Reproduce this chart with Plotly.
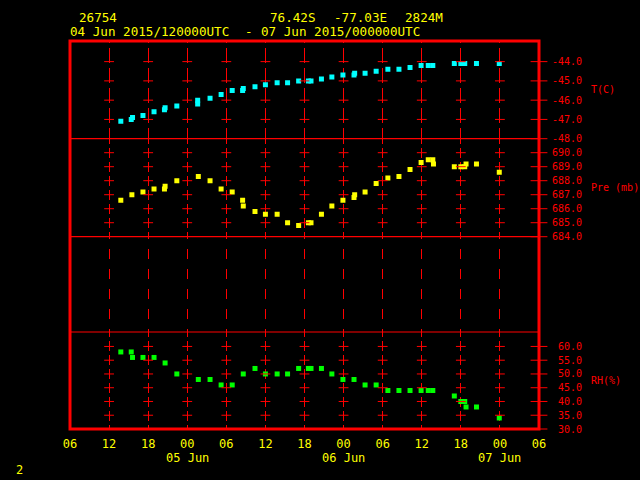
import plotly.graph_objects as go

# ---------------- data ----------------
STATION_ID = "26754"
LAT_TXT = "76.42S"
LON_TXT = "-77.03E"
ELEV_TXT = "2824M"
TIME_START = "04 Jun 2015/120000UTC"
TIME_END = "07 Jun 2015/000000UTC"
PAGE_NO = "2"

# hours since 2015-06-04 00 UTC
X_TICK_HOURS = [6, 12, 18, 24, 30, 36, 42, 48, 54, 60, 66, 72, 78]
X_TICK_LABELS = ["06", "12", "18", "00", "06", "12", "18", "00", "06", "12", "18", "00", "06"]
DATE_HOURS = [24, 48, 72]
DATE_LABELS = ["05 Jun", "06 Jun", "07 Jun"]

T_TICKS = [-48, -47, -46, -45, -44]
P_TICKS = [684, 685, 686, 687, 688, 689, 690]
RH_TICKS = [30, 35, 40, 45, 50, 55, 60]

T_hours = [13.8, 15.4, 15.6, 17.2, 18.9, 20.5, 20.6, 22.4, 25.6, 25.6,
           27.5, 29.2, 30.9, 32.5, 32.6, 34.4, 36.0, 37.8, 39.4, 41.1,
           42.6, 43.0, 44.6, 46.2, 47.9, 49.6, 49.7, 51.3, 53.0, 54.8,
           56.5, 58.2, 59.9, 61.0, 61.7, 65.0, 66.0, 66.6, 68.4, 71.9]
T_vals = [-47.1, -47.0, -46.9, -46.8, -46.6, -46.5, -46.4, -46.3, -46.2, -46.0,
          -45.9, -45.7, -45.5, -45.5, -45.4, -45.3, -45.2, -45.1, -45.1, -45.0,
          -45.0, -45.0, -44.9, -44.8, -44.7, -44.7, -44.6, -44.6, -44.5, -44.4,
          -44.4, -44.3, -44.2, -44.2, -44.2, -44.1, -44.1, -44.1, -44.1, -44.1]

P_hours = [13.8, 15.5, 17.2, 18.9, 20.5, 20.6, 22.4, 25.7, 27.5, 29.2,
           30.9, 32.5, 32.6, 34.4, 36.0, 37.8, 39.4, 41.1, 42.6, 43.0,
           44.6, 46.2, 47.9, 49.6, 49.7, 51.3, 53.0, 54.8, 56.5, 58.2,
           59.9, 61.0, 61.7, 61.8, 65.0, 66.0, 66.6, 66.8, 68.4, 71.9]
P_vals = [686.6, 687.0, 687.2, 687.4, 687.4, 687.6, 688.0, 688.3, 688.0, 687.4,
          687.2, 686.6, 686.2, 685.8, 685.6, 685.6, 685.0, 684.8, 685.0, 685.0,
          685.6, 686.2, 686.6, 686.8, 687.0, 687.2, 687.8, 688.2, 688.3, 688.8,
          689.3, 689.5, 689.5, 689.2, 689.0, 689.0, 689.0, 689.2, 689.2, 688.6]

RH_hours = [13.8, 15.4, 15.6, 17.2, 18.9, 20.6, 22.4, 25.7, 27.5, 29.2,
            30.9, 32.6, 34.4, 36.0, 37.8, 39.4, 41.1, 42.6, 43.0, 44.6,
            46.2, 47.9, 49.6, 51.3, 53.0, 54.8, 56.5, 58.2, 59.9, 61.0,
            61.7, 65.0, 66.0, 66.6, 66.8, 68.4, 71.9]
RH_vals = [58, 58, 56, 56, 56, 54, 50, 48, 48, 46,
           46, 50, 52, 50, 50, 50, 52, 52, 52, 52,
           50, 48, 48, 46, 46, 44, 44, 44, 44, 44,
           44, 42, 40, 40, 38, 38, 34]

# ---------------- style ----------------
FONT = "DejaVu Sans Mono"
RED = "#ff0000"
YEL = "#ffff00"
CYAN = "#00ffff"
GREEN = "#00ff00"

D_T = [0.7482, 1.0]
D_P = [0.4956, 0.7482]
D_E = [0.25, 0.4956]
D_RH = [0.0, 0.25]


def fmt(v):
    s = f"{v:.1f}"
    return "\u00a0" * (5 - len(s)) + s


def nb(s):
    return s.replace(" ", "\u00a0")


fig = go.Figure()

# data
fig.add_trace(go.Scatter(x=T_hours, y=T_vals, mode="markers", xaxis="x", yaxis="y",
                         marker=dict(symbol="square", size=5, color=CYAN, line=dict(width=0))))
fig.add_trace(go.Scatter(x=P_hours, y=P_vals, mode="markers", xaxis="x2", yaxis="y2",
                         marker=dict(symbol="square", size=5, color=YEL, line=dict(width=0))))
fig.add_trace(go.Scatter(x=RH_hours, y=RH_vals, mode="markers", xaxis="x4", yaxis="y4",
                         marker=dict(symbol="square", size=5, color=GREEN, line=dict(width=0))))
# empty middle panel (keeps its grid)
fig.add_trace(go.Scatter(x=[], y=[], mode="markers", xaxis="x3", yaxis="y3", hoverinfo="skip"))

# tick crosses on the grid lines and on the right frame
grid_hours = X_TICK_HOURS[1:-1]
for ticks, xa, ya in [(T_TICKS[1:], "x", "y"), (P_TICKS[1:], "x2", "y2"), (RH_TICKS[1:], "x4", "y4")]:
    xs = [h for h in grid_hours for _ in ticks]
    ys = [t for _ in grid_hours for t in ticks]
    fig.add_trace(go.Scatter(x=xs, y=ys, mode="markers", xaxis=xa, yaxis=ya,
                             marker=dict(symbol="line-ew", size=7, line=dict(color=RED, width=1))))
for ticks, xa, ya in [(T_TICKS, "x", "y"), (P_TICKS, "x2", "y2"), (RH_TICKS, "x4", "y4")]:
    fig.add_trace(go.Scatter(x=[X_TICK_HOURS[-1]] * len(ticks), y=ticks, mode="markers",
                             xaxis=xa, yaxis=ya, cliponaxis=False,
                             marker=dict(symbol="line-ew", size=12, line=dict(color=RED, width=1))))


def xax(anchor, dash, labels=False):
    return dict(domain=[0, 1], range=[X_TICK_HOURS[0], X_TICK_HOURS[-1]], anchor=anchor,
                tickmode="array", tickvals=X_TICK_HOURS, ticktext=X_TICK_LABELS,
                showticklabels=labels, ticks="", showgrid=True, gridcolor=RED, gridwidth=1,
                griddash=dash, zeroline=False, showline=False,
                tickfont=dict(family=FONT, size=12, color=YEL), ticklabelstandoff=6)


def yax(anchor, dom, rng, ticks, show=True):
    return dict(domain=dom, range=rng, anchor=anchor, side="right",
                tickmode="array", tickvals=ticks, ticktext=[fmt(t) for t in ticks],
                showticklabels=show, ticks="", showgrid=False, zeroline=False, showline=False,
                tickfont=dict(family=FONT, size=10, color=RED), ticklabelstandoff=12)


fig.update_layout(
    width=640, height=480,
    margin=dict(l=70, r=101, t=41, b=51, pad=0),
    paper_bgcolor="#000000", plot_bgcolor="#000000",
    showlegend=False,
    xaxis=xax("y", "2px,5px,13px,0px"),
    xaxis2=xax("y2", "5px,4px,5px,0px"),
    xaxis3=xax("y3", "2px,10px,8px,0px"),
    xaxis4=xax("y4", "5px,4px,5px,0px", labels=True),
    yaxis=yax("x", D_T, [-48, -42.93], T_TICKS),
    yaxis2=yax("x2", D_P, [684, 691], P_TICKS),
    yaxis3=yax("x3", D_E, [0, 1], [], show=False),
    yaxis4=yax("x4", D_RH, [30, 65.25], RH_TICKS),
)

# panel separators (bottom of T, Pre and empty panels)
for ysep in [D_T[0], D_P[0], D_E[0]]:
    fig.add_shape(type="line", xref="paper", yref="paper", x0=0, x1=1, y0=ysep, y1=ysep,
                  line=dict(color=RED, width=1.2), layer="above")
# outer frame
fig.add_shape(type="rect", xref="paper", yref="paper", x0=0, x1=1, y0=0, y1=1,
              line=dict(color=RED, width=3), layer="above")

ann = []
hdr_font = dict(family=FONT, size=12.6, color=YEL)
for txt, xp in [(STATION_ID, 0.0141), (LAT_TXT, 0.4222), (LON_TXT, 0.5578), (ELEV_TXT, 0.7100)]:
    ann.append(dict(text=txt, xref="paper", yref="paper", x=xp, y=1.0611,
                    xanchor="left", yanchor="middle", showarrow=False, font=hdr_font))
for txt, xp in [(nb(TIME_START), -0.0051), ("-", 0.3682), (nb(TIME_END), 0.4023)]:
    ann.append(dict(text=txt, xref="paper", yref="paper", x=xp, y=1.0232,
                    xanchor="left", yanchor="middle", showarrow=False, font=hdr_font))
for h, lab in zip(DATE_HOURS, DATE_LABELS):
    ann.append(dict(text=nb(lab), xref="x4", yref="paper", x=h, y=-0.074,
                    xanchor="center", yanchor="middle", showarrow=False,
                    font=dict(family=FONT, size=12, color=YEL)))
for title, yref in [("T(C)", "y domain"), (nb("Pre (mb)"), "y2 domain"), ("RH(%)", "y4 domain")]:
    ann.append(dict(text=title, xref="paper", yref=yref, x=1.1066, y=0.5,
                    xanchor="left", yanchor="middle", showarrow=False,
                    font=dict(family=FONT, size=10, color=RED)))
ann.append(dict(text=PAGE_NO, xref="paper", yref="paper", x=-0.1087, y=-0.1289,
                xanchor="center", yanchor="bottom", showarrow=False,
                font=dict(family=FONT, size=12, color=YEL)))
fig.update_layout(annotations=ann)

fig.write_html("out.html", config={"displayModeBar": False},
               post_script="document.body.style.margin='0';")
